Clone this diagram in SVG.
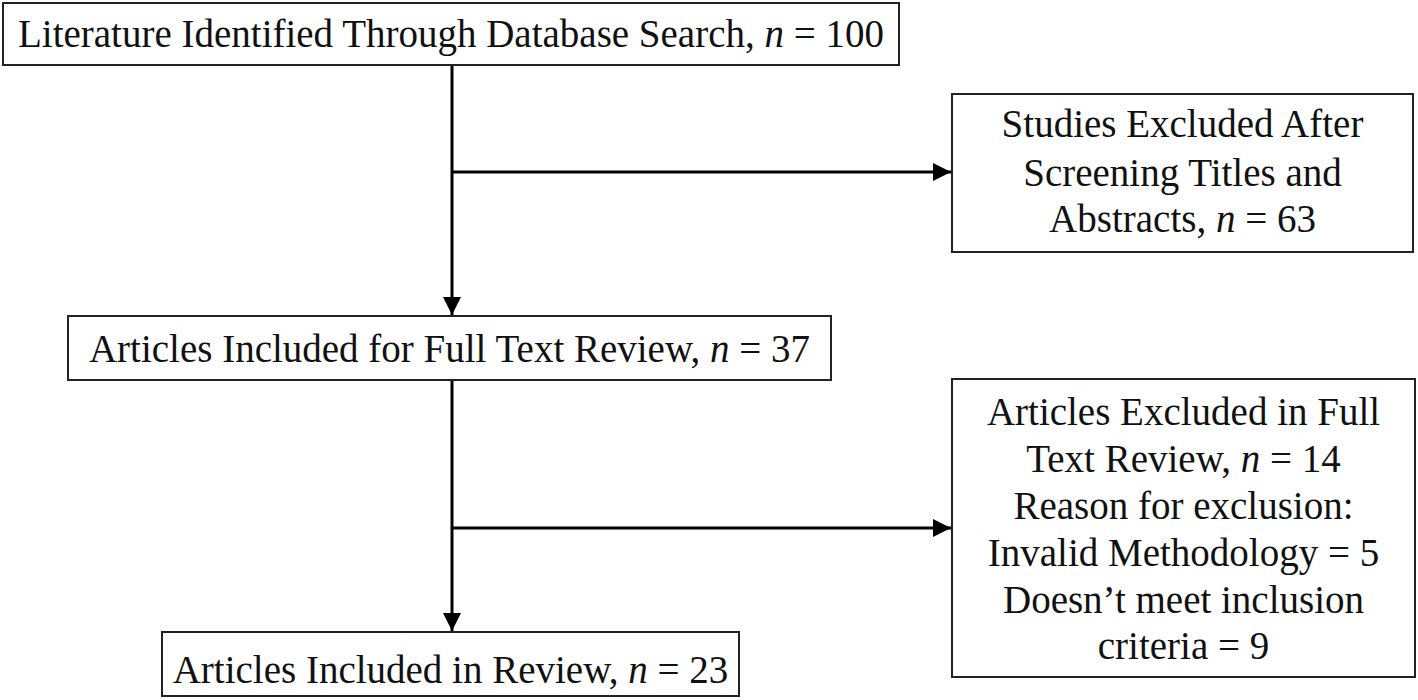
<svg xmlns="http://www.w3.org/2000/svg" width="1418" height="700" viewBox="0 0 1418 700">
<style>
.box{fill:#fff;stroke:#222;stroke-width:2}
.t{font-family:"Liberation Serif","Times New Roman",serif;font-size:39px;fill:#111;text-anchor:middle}
.i{font-style:italic}
.c{fill:none;stroke:#000;stroke-width:3}
</style>
<defs>
<marker id="ah" markerUnits="userSpaceOnUse" markerWidth="19" markerHeight="18" refX="18" refY="9" orient="auto">
<path d="M0,0 L18,9 L0,18 Z" fill="#000"/>
</marker>
</defs>
<rect width="1418" height="700" fill="#fff"/>
<g id="connectors">
<line class="c" x1="452" y1="65" x2="452" y2="315" marker-end="url(#ah)"/>
<line class="c" x1="452" y1="172" x2="951" y2="172" marker-end="url(#ah)"/>
<line class="c" x1="452" y1="380" x2="452" y2="631" marker-end="url(#ah)"/>
<line class="c" x1="452" y1="528" x2="951" y2="528" marker-end="url(#ah)"/>
</g>
<g id="n1">
<rect class="box" x="3" y="3" width="896" height="62"/>
<text class="t" x="451" y="47">Literature Identified Through Database Search, <tspan class="i">n</tspan> = 100</text>
</g>
<g id="n2">
<rect class="box" x="952" y="94" width="461" height="158"/>
<text class="t" x="1182.5" y="137">Studies Excluded After</text>
<text class="t" x="1182.5" y="186">Screening Titles and</text>
<text class="t" x="1182.5" y="232">Abstracts, <tspan class="i">n</tspan> = 63</text>
</g>
<g id="n3">
<rect class="box" x="68" y="316" width="763" height="64"/>
<text class="t" x="449.5" y="362">Articles Included for Full Text Review, <tspan class="i">n</tspan> = 37</text>
</g>
<g id="n4">
<rect class="box" x="952" y="379" width="463" height="298"/>
<text class="t" x="1183.5" y="425">Articles Excluded in Full</text>
<text class="t" x="1183.5" y="472">Text Review, <tspan class="i">n</tspan> = 14</text>
<text class="t" x="1183.5" y="519">Reason for exclusion:</text>
<text class="t" x="1183.5" y="566">Invalid Methodology = 5</text>
<text class="t" x="1183.5" y="613">Doesn’t meet inclusion</text>
<text class="t" x="1183.5" y="659">criteria = 9</text>
</g>
<g id="n5">
<rect class="box" x="162" y="632" width="577" height="64"/>
<text class="t" x="450.5" y="683">Articles Included in Review, <tspan class="i">n</tspan> = 23</text>
</g>
</svg>
